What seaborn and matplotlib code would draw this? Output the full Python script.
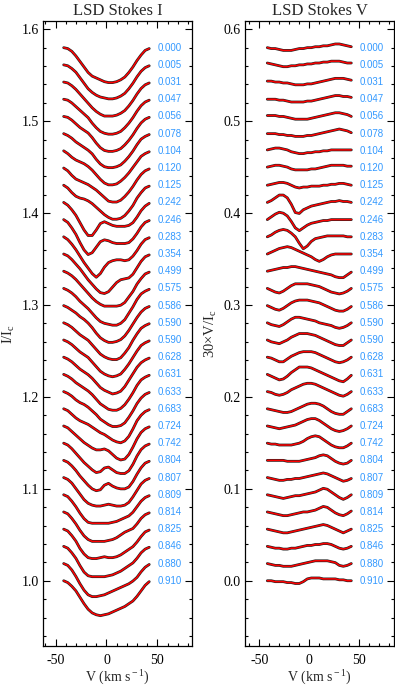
import numpy as np
import pandas as pd
import matplotlib
matplotlib.use("Agg")
import matplotlib.pyplot as plt
import seaborn as sns
from matplotlib.ticker import MultipleLocator, FormatStrFormatter

# ---------------- data ----------------
phases = ["0.000", "0.005", "0.031", "0.047", "0.056", "0.078", "0.104", "0.120",
          "0.125", "0.242", "0.246", "0.283", "0.354", "0.499", "0.575", "0.586",
          "0.590", "0.590", "0.628", "0.631", "0.633", "0.683", "0.724", "0.742",
          "0.804", "0.807", "0.809", "0.814", "0.825", "0.846", "0.880", "0.910"]

velocity = [-42, -38, -34, -30, -26, -22, -18, -14, -10, -6, -2,
            2, 6, 10, 14, 18, 22, 26, 30, 34, 38, 42]

# Stokes I line depth (1 - I/Ic) in units of 0.001, one row per phase
stokes_i_depth = [
    [0, 1, 4, 9, 15, 21, 27, 31, 33, 35, 37, 38, 38, 37, 35, 32, 27, 21, 14, 8, 3, 1],
    [0, 1, 4, 8, 14, 20, 26, 30, 33, 35, 36, 37, 37, 36, 34, 31, 26, 20, 13, 7, 3, 1],
    [0, 1, 4, 8, 13, 18, 23, 28, 32, 35, 37, 37, 37, 36, 34, 31, 26, 20, 13, 7, 3, 1],
    [0, 1, 4, 8, 12, 16, 20, 26, 31, 35, 37, 38, 38, 37, 35, 31, 26, 20, 13, 7, 3, 1],
    [0, 1, 4, 8, 12, 15, 18, 23, 29, 34, 37, 38, 38, 37, 35, 31, 26, 20, 13, 7, 3, 1],
    [0, 2, 5, 9, 12, 15, 18, 22, 28, 33, 36, 37, 37, 36, 34, 30, 25, 19, 12, 6, 3, 1],
    [0, 3, 7, 10, 12, 14, 17, 21, 26, 31, 35, 37, 37, 36, 33, 29, 24, 18, 12, 6, 3, 1],
    [0, 3, 8, 12, 14, 16, 18, 21, 24, 28, 32, 36, 37, 37, 35, 31, 26, 20, 13, 7, 3, 1],
    [0, 3, 8, 12, 14, 15, 17, 20, 24, 28, 32, 35, 37, 37, 36, 33, 28, 22, 14, 8, 3, 1],
    [0, 3, 8, 14, 22, 30, 36, 36, 30, 23, 21, 23, 25, 26, 26, 26, 25, 22, 16, 9, 4, 1],
    [0, 3, 9, 16, 25, 33, 38, 36, 30, 24, 22, 23, 25, 26, 26, 26, 25, 21, 15, 8, 3, 1],
    [0, 3, 8, 14, 21, 28, 34, 40, 44, 40, 33, 28, 26, 25, 25, 26, 25, 21, 15, 8, 3, 1],
    [0, 2, 6, 11, 16, 22, 28, 33, 38, 42, 43, 41, 36, 31, 28, 27, 26, 22, 15, 8, 3, 1],
    [0, 2, 5, 9, 14, 19, 24, 29, 33, 36, 38, 38, 38, 38, 37, 34, 28, 22, 14, 8, 3, 1],
    [0, 2, 5, 9, 14, 18, 22, 27, 32, 36, 38, 39, 40, 40, 38, 34, 27, 20, 12, 6, 3, 1],
    [0, 2, 5, 8, 12, 15, 19, 24, 30, 35, 38, 40, 40, 39, 37, 33, 27, 20, 13, 7, 3, 1],
    [0, 2, 5, 9, 13, 16, 19, 24, 29, 34, 37, 39, 40, 40, 38, 33, 27, 19, 12, 6, 3, 1],
    [0, 2, 5, 9, 13, 16, 19, 24, 29, 34, 37, 39, 40, 39, 37, 32, 26, 19, 12, 6, 3, 1],
    [0, 2, 5, 9, 13, 16, 19, 23, 28, 33, 36, 38, 40, 39, 37, 32, 25, 18, 11, 6, 3, 1],
    [0, 2, 5, 9, 12, 15, 18, 22, 27, 32, 35, 38, 39, 39, 37, 33, 27, 20, 12, 6, 3, 1],
    [0, 2, 5, 9, 12, 14, 17, 21, 25, 30, 33, 36, 38, 38, 37, 34, 28, 21, 13, 7, 3, 1],
    [0, 2, 6, 10, 13, 15, 17, 20, 23, 26, 28, 31, 34, 36, 37, 35, 30, 22, 13, 7, 3, 1],
    [0, 2, 6, 10, 14, 18, 21, 24, 26, 26, 25, 27, 31, 35, 37, 36, 31, 23, 14, 7, 3, 1],
    [0, 2, 6, 11, 16, 21, 25, 29, 32, 31, 27, 26, 29, 32, 33, 33, 30, 23, 14, 7, 3, 1],
    [0, 2, 6, 11, 17, 22, 27, 31, 33, 32, 27, 25, 28, 30, 31, 31, 29, 23, 15, 8, 3, 1],
    [0, 2, 6, 12, 18, 24, 28, 30, 31, 31, 30, 29, 30, 31, 31, 30, 27, 21, 14, 7, 3, 1],
    [0, 2, 7, 13, 20, 26, 30, 31, 31, 31, 31, 31, 30, 29, 27, 25, 23, 19, 13, 7, 3, 1],
    [0, 2, 7, 13, 20, 26, 30, 32, 32, 32, 32, 31, 30, 28, 25, 22, 20, 18, 13, 7, 3, 1],
    [0, 2, 7, 13, 21, 27, 31, 32, 32, 31, 30, 31, 31, 30, 28, 25, 22, 19, 14, 8, 3, 1],
    [0, 2, 7, 13, 21, 28, 32, 33, 33, 33, 33, 32, 31, 29, 27, 24, 21, 18, 13, 7, 3, 1],
    [0, 2, 7, 14, 22, 29, 34, 36, 36, 35, 34, 32, 30, 28, 26, 24, 22, 19, 15, 9, 4, 1],
    [0, 2, 6, 11, 18, 25, 31, 35, 37, 38, 37, 36, 34, 32, 30, 28, 25, 22, 17, 11, 5, 1],
]

# Stokes V signal (30 x V/Ic) in units of 0.001, one row per phase
stokes_v_signal = [
    [0, -1, -1, -2, -3, -3, -3, -2, -1, -1, 0, 0, 1, 1, 2, 2, 3, 4, 4, 3, 2, 1],
    [2, 1, 0, -1, -2, -2, -1, -1, 0, 0, 1, 1, 2, 2, 3, 3, 4, 4, 4, 3, 2, 2],
    [1, 1, 0, 0, -1, -1, -2, -3, -3, -3, -2, -2, -1, 0, 1, 2, 3, 4, 4, 4, 3, 2],
    [0, 0, 0, -1, -1, -2, -3, -3, -3, -3, -2, -2, -1, 0, 1, 2, 3, 4, 4, 3, 3, 2],
    [1, 1, 1, 0, 0, -1, -2, -3, -3, -3, -3, -2, -1, 0, 1, 2, 3, 4, 4, 3, 2, 0],
    [0, 0, 0, -1, -1, -2, -2, -3, -3, -3, -2, -2, -1, 0, 1, 2, 3, 4, 5, 4, 3, 1],
    [1, 2, 3, 3, 2, 1, -1, -2, -3, -3, -2, -2, -1, -1, 0, 0, 1, 1, 1, 1, 1, 1],
    [1, 2, 3, 3, 2, 1, -1, -2, -2, -2, -2, -1, -1, 0, 1, 2, 3, 3, 3, 3, 2, 2],
    [0, 1, 2, 3, 3, 2, 0, -2, -3, -2, -2, -1, -1, -1, 0, 0, 1, 1, 2, 2, 1, 0],
    [0, 2, 5, 8, 8, 5, -2, -11, -12, -8, -6, -4, -3, -2, -1, 0, 1, 1, 2, 1, 1, 0],
    [0, 3, 6, 8, 7, 4, -2, -9, -12, -9, -6, -4, -3, -2, -1, -1, 0, 0, 0, 0, 0, 0],
    [0, 2, 5, 7, 8, 7, 4, 0, -7, -13, -10, -5, -2, -1, 0, 1, 1, 1, 1, 1, 0, 0],
    [0, 2, 4, 6, 7, 8, 7, 5, 3, 1, -1, -3, -6, -8, -6, -3, -1, 0, 0, 0, 0, 0],
    [0, 1, 2, 3, 4, 4, 5, 5, 4, 3, 2, 1, 0, -1, -2, -3, -4, -6, -7, -7, -4, -1],
    [0, -2, -4, -5, -3, 0, 3, 5, 5, 5, 5, 4, 3, 2, 0, -2, -4, -5, -6, -5, -3, 0],
    [0, -2, -4, -5, -3, 0, 3, 5, 6, 6, 6, 5, 4, 3, 1, -1, -3, -5, -6, -6, -4, -1],
    [0, -2, -3, -4, -2, 1, 4, 6, 6, 5, 4, 3, 2, 0, -1, -2, -3, -5, -6, -5, -3, 0],
    [0, -2, -3, -4, -2, 0, 3, 5, 7, 7, 7, 6, 5, 3, 1, -1, -3, -5, -6, -6, -3, 0],
    [0, -1, -3, -5, -5, -2, 1, 3, 5, 6, 6, 6, 5, 3, 1, -1, -3, -5, -6, -5, -3, 0],
    [0, -2, -4, -6, -5, -2, 2, 5, 8, 8, 8, 7, 5, 3, 1, -1, -3, -5, -7, -8, -5, -1],
    [0, -1, -3, -4, -3, -1, 2, 4, 6, 8, 9, 9, 8, 6, 4, 2, 0, -2, -4, -5, -3, 0],
    [0, -1, -2, -3, -4, -4, -3, -1, 1, 3, 5, 6, 6, 5, 3, 0, -3, -5, -6, -6, -3, 0],
    [0, -1, -2, -3, -2, -1, 0, 1, 3, 5, 7, 8, 8, 6, 3, 0, -3, -5, -6, -5, -3, 0],
    [0, -1, -1, -2, -2, -2, -2, -1, 0, 2, 5, 7, 8, 7, 4, 1, -2, -4, -5, -5, -3, 0],
    [0, 0, 0, 0, 0, -1, -1, -1, -1, 0, 1, 2, 3, 5, 6, 5, 2, -1, -3, -4, -3, 0],
    [0, -1, -2, -3, -3, -2, -2, -1, -1, 0, 1, 2, 3, 4, 5, 4, 2, 0, -2, -4, -3, -1],
    [0, -1, -2, -3, -4, -3, -2, -1, -1, 0, 1, 2, 3, 5, 7, 6, 3, 0, -3, -5, -3, 0],
    [0, -1, -2, -3, -4, -4, -3, -2, -1, 0, 0, 1, 2, 4, 6, 5, 2, -1, -3, -4, -2, 1],
    [0, -1, -2, -3, -4, -4, -3, -2, -1, 0, 1, 2, 3, 4, 5, 4, 2, 0, -2, -4, -2, 0],
    [0, -1, -2, -2, -3, -3, -2, -2, -1, 0, 1, 1, 2, 2, 3, 3, 2, 0, -2, -3, -2, 0],
    [0, -1, -2, -2, -3, -3, -3, -2, -1, 0, 1, 2, 3, 3, 3, 3, 2, 1, -2, -3, -2, 0],
    [0, 0, -1, -1, -1, -2, -2, -3, -3, -1, 2, 3, 3, 3, 2, 2, 2, 2, 1, 1, 0, 0],
]

x_ticks = [-50, 0, 50]
i_ticks = [1.0, 1.1, 1.2, 1.3, 1.4, 1.5, 1.6]
v_ticks = [0.0, 0.1, 0.2, 0.3, 0.4, 0.5, 0.6]

# ---------------- style ----------------
sns.set_theme(style="ticks")
plt.rcParams.update({
    "font.family": ["Liberation Serif", "DejaVu Serif"],
    "mathtext.fontset": "custom",
    "mathtext.rm": "Liberation Serif",
    "mathtext.it": "Liberation Serif:italic",
    "axes.unicode_minus": False,
    "axes.linewidth": 0.9,
    "axes.edgecolor": "black",
})

n = len(phases)
spacing = 0.58 / (n - 1)

def long_frame(rows, base, sign):
    recs = []
    for k, row in enumerate(rows):
        off = (n - 1 - k) * spacing
        for v, val in zip(velocity, row):
            recs.append({"k": k, "v": v, "y": base + sign * val / 1000.0 + off})
    return pd.DataFrame(recs)

df_i = long_frame(stokes_i_depth, 1.0, -1)
df_v = long_frame(stokes_v_signal, 0.0, 1)

W, H = 395, 689
fig = plt.figure(figsize=(W / 100, H / 100), dpi=100)
ax_i = fig.add_axes([43 / W, 43 / H, 149 / W, 625 / H])
ax_v = fig.add_axes([245 / W, 43 / H, 149 / W, 625 / H])

label_color = "#3399ff"

for ax, df, base, ticks, xlim, ylim, title, ylab in [
    (ax_i, df_i, 1.0, i_ticks, (-62.3, 84.0), (0.929, 1.609), "LSD Stokes I", r"I/I$_{\rm c}$"),
    (ax_v, df_v, 0.0, v_ticks, (-64.3, 84.7), (-0.071, 0.609), "LSD Stokes V", r"30$\times$V/I$_{\rm c}$"),
]:
    sns.lineplot(data=df, x="v", y="y", units="k", estimator=None, color="#222222",
                 lw=2.0, ax=ax, legend=False)
    sns.lineplot(data=df, x="v", y="y", units="k", estimator=None, color="red",
                 lw=1.1, ax=ax, legend=False)
    for k, ph in enumerate(phases):
        ax.text(50.5, base + (n - 1 - k) * spacing, ph, color=label_color,
                fontsize=7, family="Liberation Sans", ha="left", va="center")
    ax.set_xlim(*xlim)
    ax.set_ylim(*ylim)
    ax.set_xticks(x_ticks)
    ax.set_yticks(ticks)
    ax.yaxis.set_major_formatter(FormatStrFormatter("%.1f"))
    ax.xaxis.set_minor_locator(MultipleLocator(10))
    ax.yaxis.set_minor_locator(MultipleLocator(0.02))
    ax.tick_params(which="both", direction="in", top=True, right=True,
                   colors="black", labelsize=10, width=0.8)
    ax.tick_params(which="major", length=5)
    ax.tick_params(which="minor", length=2.5)
    ax.tick_params(axis="x", which="both", pad=6)
    ax.tick_params(axis="y", which="both", pad=3)
    ax.set_title(title, fontsize=12, pad=4)
    ax.set_xlabel(r"V (km s$^{\rm -1}$)", fontsize=10, labelpad=1)
    ax.set_ylabel(ylab, fontsize=10.5, labelpad=3)
    ax.grid(False)
    for s in ax.spines.values():
        s.set_color("black")

fig.savefig("out.png", dpi=100)
